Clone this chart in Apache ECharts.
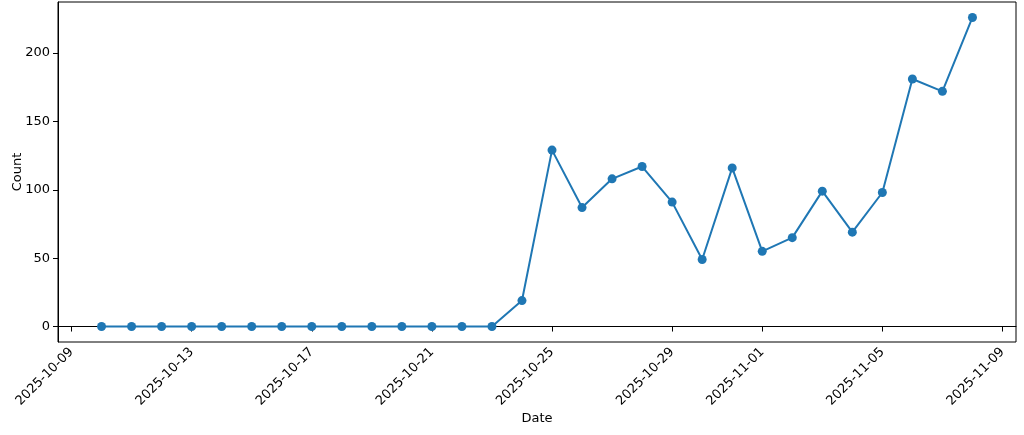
<!DOCTYPE html>
<html>
<head>
<meta charset="utf-8">
<script src="https://cdn.jsdelivr.net/npm/echarts@6/dist/echarts.min.js"></script>
<style>
html,body{margin:0;padding:0;background:#fff;}
#chart{width:1024px;height:435px;}
</style>
</head>
<body>
<div id="chart"></div>
<script>
const dates = [
  '2025-10-10','2025-10-11','2025-10-12','2025-10-13','2025-10-14','2025-10-15',
  '2025-10-16','2025-10-17','2025-10-18','2025-10-19','2025-10-20','2025-10-21',
  '2025-10-22','2025-10-23','2025-10-24','2025-10-25','2025-10-26','2025-10-27',
  '2025-10-28','2025-10-29','2025-10-30','2025-10-31','2025-11-01','2025-11-02',
  '2025-11-03','2025-11-04','2025-11-05','2025-11-06','2025-11-07','2025-11-08'
];
const counts = [
  0,0,0,0,0,0,0,0,0,0,0,0,0,0,
  19,129,87,108,117,91,49,116,55,65,99,69,98,181,172,226
];
const xTickLabels = ['2025-10-09','2025-10-13','2025-10-17','2025-10-21','2025-10-25',
  '2025-10-29','2025-11-01','2025-11-05','2025-11-09'];
const yTicks = [0,50,100,150,200];

// dates -> day number (UTC based, so no timezone effects)
function dayNum(s){ const p = s.split('-').map(Number); return Date.UTC(p[0], p[1]-1, p[2]) / 86400000; }

const data = dates.map((d,i)=>[dayNum(d), counts[i]]);
const xFirst = dayNum(dates[0]), xLast = dayNum(dates[dates.length-1]);
const xPad = (xLast - xFirst) * 0.05;
const yMaxV = Math.max(...counts), yMinV = Math.min(...counts);
const yPad = (yMaxV - yMinV) * 0.05;
const xTickVals = xTickLabels.map(dayNum);

const font = 'DejaVu Sans';
const chart = echarts.init(document.getElementById('chart'), null, {renderer:'canvas'});
chart.setOption({
  animation:false,
  backgroundColor:'#fff',
  grid:{left:58, right:8, top:2, bottom:93, containLabel:false, outerBoundsMode:'none',
    show:true, borderColor:'#000', borderWidth:1, backgroundColor:'transparent'},
  xAxis:{
    type:'value',
    min:xFirst - xPad, max:xLast + xPad,
    name:'Date', nameLocation:'middle', nameGap:70, nameMoveOverlap:false,
    nameTextStyle:{fontFamily:font, fontSize:13, color:'#000'},
    axisLine:{show:true, lineStyle:{color:'#000', width:1}},
    axisTick:{show:true, length:5, lineStyle:{color:'#000'}, customValues:xTickVals},
    axisLabel:{show:true, rotate:45, margin:8, fontFamily:font, fontSize:13, color:'#000',
      customValues:xTickVals,
      formatter:function(v){ let best=-1, bd=1e9; xTickVals.forEach((t,i)=>{const d=Math.abs(t-v); if(d<bd){bd=d;best=i;}}); return bd<0.01 ? xTickLabels[best] : ''; }},
    splitLine:{show:false}
  },
  yAxis:{
    type:'value',
    min:yMinV - yPad, max:yMaxV + yPad,
    name:'Count', nameLocation:'middle', nameGap:34, nameMoveOverlap:false,
    nameTextStyle:{fontFamily:font, fontSize:13, color:'#000'},
    axisLine:{show:true, lineStyle:{color:'#000', width:1}},
    axisTick:{show:true, length:5, lineStyle:{color:'#000'}, customValues:yTicks},
    axisLabel:{show:true, margin:8, fontFamily:font, fontSize:13, color:'#000', customValues:yTicks,
      formatter:function(v){ return String(Math.round(v)); }},
    splitLine:{show:false}
  },
  series:[{
    type:'line',
    data:data,
    symbol:'circle', symbolSize:9,
    showAllSymbol:true,
    lineStyle:{color:'#1f77b4', width:2},
    itemStyle:{color:'#1f77b4'},
    emphasis:{disabled:true}
  }]
});
</script>
</body>
</html>
